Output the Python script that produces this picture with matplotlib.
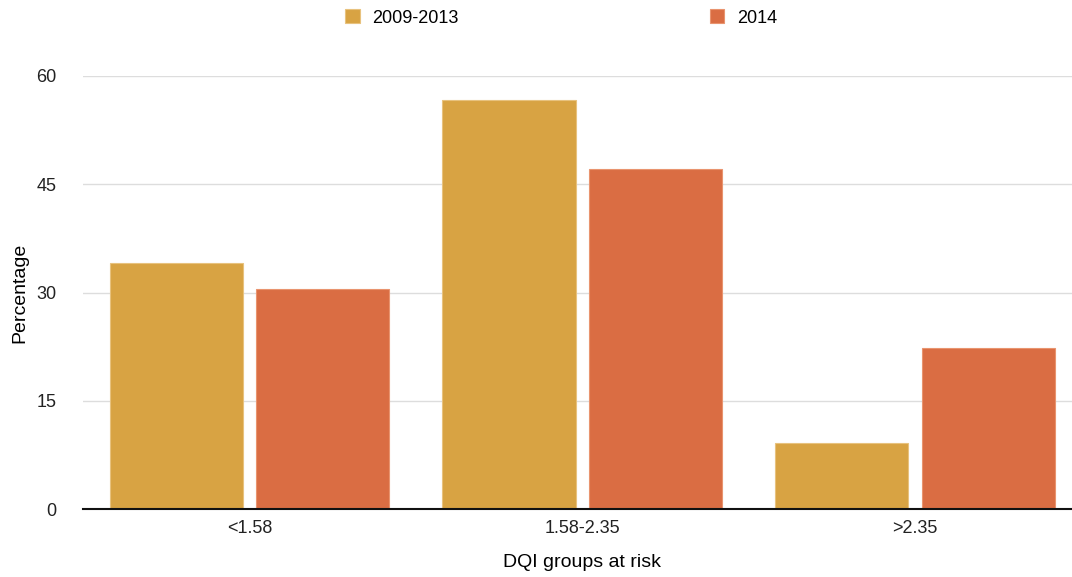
import numpy as np
import matplotlib.pyplot as plt

plt.rcParams['font.family'] = ['Liberation Sans', 'DejaVu Sans']

groups = ["<1.58", "1.58-2.35", ">2.35"]
period_a = [34.1, 56.7, 9.1]
period_b = [30.5, 47.1, 22.3]
labels = ["2009-2013", "2014"]
colors = ["#D8A343", "#DA6D43"]

fig = plt.figure(figsize=(10.72, 5.77), dpi=100)
ax = fig.add_axes([83/1072, 68/577, 998.5/1072, 433/577])

x = np.arange(len(groups))
w = 0.4
off = 0.22
ax.bar(x - off, period_a, w, color=colors[0], edgecolor="#E8C27E", linewidth=0.8, label=labels[0], zorder=3)
ax.bar(x + off, period_b, w, color=colors[1], edgecolor="#E9946F", linewidth=0.8, label=labels[1], zorder=3)

ax.set_xlim(-0.5, 2.5)
ax.set_ylim(0, 60)
ax.set_yticks([0, 15, 30, 45, 60])
ax.set_xticks(x)
ax.set_xticklabels(groups)
ax.tick_params(axis="both", length=0, labelsize=13, colors="#222222")
ax.tick_params(axis="y", pad=19)
ax.tick_params(axis="x", pad=8)
ax.grid(axis="y", color="#DDDDDD", linewidth=1, zorder=0)
for s in ["top", "right", "left"]:
    ax.spines[s].set_visible(False)
ax.spines["bottom"].set_linewidth(1.5)
ax.spines["bottom"].set_color("#111111")
ax.spines["bottom"].set_zorder(4)

ax.set_xlabel("DQI groups at risk", fontsize=14, labelpad=12)
ax.set_ylabel("Percentage", fontsize=14, labelpad=6)

fig.legend(loc="center", bbox_to_anchor=(0.5235, 1 - 18/577), ncol=2, frameon=False,
           fontsize=13, handlelength=0.8, handleheight=0.8, handletextpad=0.7,
           columnspacing=13.9)

fig.savefig("out.png", dpi=100)
